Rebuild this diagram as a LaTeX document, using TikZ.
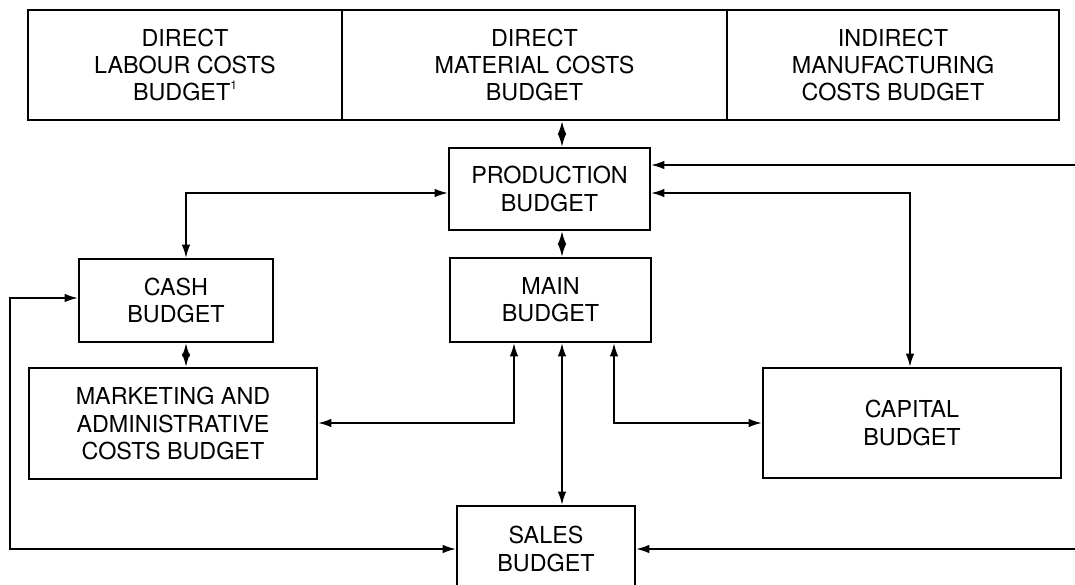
\documentclass[tikz,border=0pt]{standalone}
\usepackage{fontspec}
\setmainfont{TeX Gyre Heros}
\usetikzlibrary{arrows.meta}
\begin{document}
\begin{tikzpicture}[x=0.75pt,y=-0.75pt,
  box/.style={draw, line width=1.6pt, align=center, inner sep=0pt,
    font=\fontsize{17.5}{20.5}\selectfont},
  link/.style={line width=1.4pt,
    {Latex[length=10pt,width=6.5pt]}-{Latex[length=10pt,width=6.5pt]}},
  feed/.style={line width=1.4pt, -{Latex[length=10pt,width=6.5pt]}}]
\useasboundingbox (0,0) rectangle (1075,585);

% cost budgets along the top
\node[box, minimum width=235.5pt, minimum height=82.5pt] (dl) at (185,65)
  {DIRECT\\LABOUR COSTS\\BUDGET\raisebox{0.9ex}{\fontsize{9}{9}\selectfont 1}};
\node[box, minimum width=288.75pt, minimum height=82.5pt] (dm) at (534.5,65)
  {DIRECT\\MATERIAL COSTS\\BUDGET};
\node[box, minimum width=249pt, minimum height=82.5pt] (im) at (893,65)
  {INDIRECT\\MANUFACTURING\\COSTS BUDGET};

% remaining budgets
\node[box, minimum width=150.75pt, minimum height=61.5pt] (prod) at (549.5,189)
  {PRODUCTION\\BUDGET};
\node[box, minimum width=150.75pt, minimum height=63pt] (main) at (550.5,300)
  {MAIN\\BUDGET};
\node[box, minimum width=145.5pt, minimum height=62.25pt] (cash) at (176,300.5)
  {CASH\\BUDGET};
\node[box, minimum width=216pt, minimum height=83.25pt] (mkt) at (173,423.5)
  {MARKETING AND\\ADMINISTRATIVE\\COSTS BUDGET};
\node[box, minimum width=223.5pt, minimum height=82.5pt] (cap) at (912,423)
  {CAPITAL\\BUDGET};
\node[box, minimum width=133.5pt, minimum height=64.5pt] (sales) at (546,549)
  {SALES\\BUDGET};

% routing columns and rows
\coordinate (xa) at (186,0);
\coordinate (xb) at (514,0);
\coordinate (xc) at (562,0);
\coordinate (xd) at (614,0);
\coordinate (xe) at (910,0);
\coordinate (xl) at (10,0);
\coordinate (xr) at (1075,0);
\coordinate (ya) at (0,165);
\coordinate (yb) at (0,193);
\coordinate (yc) at (0,298);
\coordinate (yd) at (0,423);
\coordinate (ye) at (0,549);

% connectors
\draw[link] (dm.south -| xc) -- (prod.north -| xc);
\draw[link] (prod.south -| xc) -- (main.north -| xc);
\draw[link] (prod.west |- yb) -| (cash.north -| xa);
\draw[link] (cash.south -| xa) -- (mkt.north -| xa);
\draw[link] (main.south -| xb) |- (mkt.east |- yd);
\draw[link] (main.south -| xc) -- (sales.north -| xc);
\draw[link] (main.south -| xd) |- (cap.west |- yd);
\draw[feed] (xr |- ya) -- (prod.east |- ya);
\draw[link] (prod.east |- yb) -| (cap.north -| xe);
\draw[feed] (xr |- ye) -- (sales.east |- ye);
\draw[link] (cash.west |- yc) -| (xl |- ye) -- (sales.west |- ye);
\end{tikzpicture}
\end{document}
